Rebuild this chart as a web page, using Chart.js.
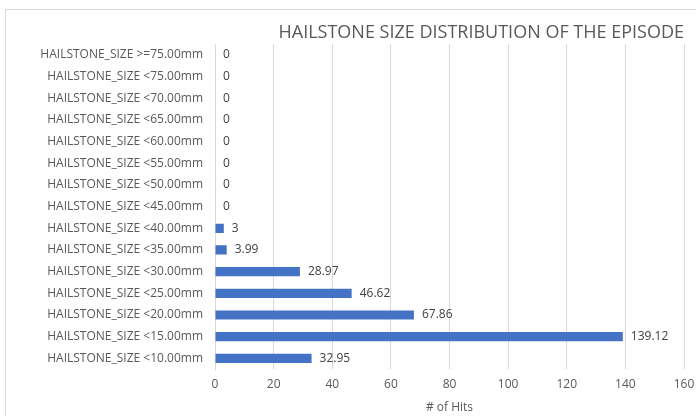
<!doctype html>
<html>
<head>
    <title>Hailstone size distribution</title>
    <script src="https://cdn.jsdelivr.net/npm/chart.js@4/dist/chart.umd.min.js"></script>
    <style>
    body { margin: 0; background: #fff; }
    #holder { width: 696px; height: 416px; }
    </style>
</head>
<body>
    <div id="holder"><canvas id="chart-area"></canvas></div>
    <script>
    // data, top to bottom as shown
    var sizeClasses = [
        "HAILSTONE_SIZE >=75.00mm", "HAILSTONE_SIZE <75.00mm", "HAILSTONE_SIZE <70.00mm",
        "HAILSTONE_SIZE <65.00mm", "HAILSTONE_SIZE <60.00mm", "HAILSTONE_SIZE <55.00mm",
        "HAILSTONE_SIZE <50.00mm", "HAILSTONE_SIZE <45.00mm", "HAILSTONE_SIZE <40.00mm",
        "HAILSTONE_SIZE <35.00mm", "HAILSTONE_SIZE <30.00mm", "HAILSTONE_SIZE <25.00mm",
        "HAILSTONE_SIZE <20.00mm", "HAILSTONE_SIZE <15.00mm", "HAILSTONE_SIZE <10.00mm"
    ];
    var hits = [0, 0, 0, 0, 0, 0, 0, 0, 3, 3.99, 28.97, 46.62, 67.86, 139.12, 32.95];
    var xTicks = [0, 20, 40, 60, 80, 100, 120, 140, 160];

    var font = "'Open Sans', 'Noto Sans', sans-serif";

    // value labels at the end of each bar
    var valueLabels = {
        id: 'valueLabels',
        afterDatasetsDraw: function(chart) {
            var ctx = chart.ctx;
            var meta = chart.getDatasetMeta(0);
            ctx.save();
            ctx.font = "12px " + font;
            ctx.fillStyle = "#404040";
            ctx.textAlign = "left";
            ctx.textBaseline = "middle";
            meta.data.forEach(function(bar, i) {
                ctx.fillText(String(hits[i]), bar.x + 8, bar.y);
            });
            ctx.restore();
        }
    };

    // thin frame like the spreadsheet chart area
    var frame = {
        id: 'frame',
        beforeDraw: function(chart) {
            var ctx = chart.ctx;
            ctx.save();
            ctx.strokeStyle = "#d9d9d9";
            ctx.lineWidth = 1;
            ctx.strokeRect(5.5, 9.5, 720, 440);
            ctx.restore();
        }
    };

    var config = {
        type: 'bar',
        data: {
            labels: sizeClasses,
            datasets: [{
                data: hits,
                backgroundColor: "#4472C4",
                categoryPercentage: 0.85,
                barPercentage: 0.5
            }]
        },
        options: {
            indexAxis: 'y',
            responsive: true,
            maintainAspectRatio: false,
            animation: false,
            layout: { padding: { left: 0, right: 12, top: 0, bottom: 1 } },
            plugins: {
                legend: { display: false },
                tooltip: { enabled: false },
                title: {
                    display: true,
                    text: 'HAILSTONE SIZE DISTRIBUTION OF THE EPISODE',
                    align: 'end',
                    color: '#595959',
                    font: { family: font, size: 18, weight: 'normal', lineHeight: 1 },
                    padding: { top: 24, bottom: 2 }
                }
            },
            scales: {
                x: {
                    min: 0,
                    max: 160,
                    afterBuildTicks: function(scale) {
                        scale.ticks = xTicks.map(function(v) { return { value: v }; });
                    },
                    afterFit: function(scale) { scale.paddingRight = 0; },
                    grid: { color: '#d9d9d9', drawTicks: false },
                    border: { display: false },
                    ticks: { color: '#595959', font: { family: font, size: 12 }, padding: 8 },
                    title: {
                        display: true,
                        text: '# of Hits',
                        color: '#595959',
                        font: { family: font, size: 12 },
                        padding: { top: 1, bottom: 0 }
                    }
                },
                y: {
                    grid: { display: false, drawTicks: false },
                    border: { display: true, color: '#d9d9d9' },
                    ticks: { color: '#595959', font: { family: font, size: 12 }, padding: 12, autoSkip: false },
                    afterFit: function(scale) { scale.width = 215; }
                }
            }
        },
        plugins: [valueLabels, frame]
    };

    window.onload = function() {
        var ctx = document.getElementById("chart-area").getContext("2d");
        window.myBar = new Chart(ctx, config);
    };
    </script>
</body>
</html>
